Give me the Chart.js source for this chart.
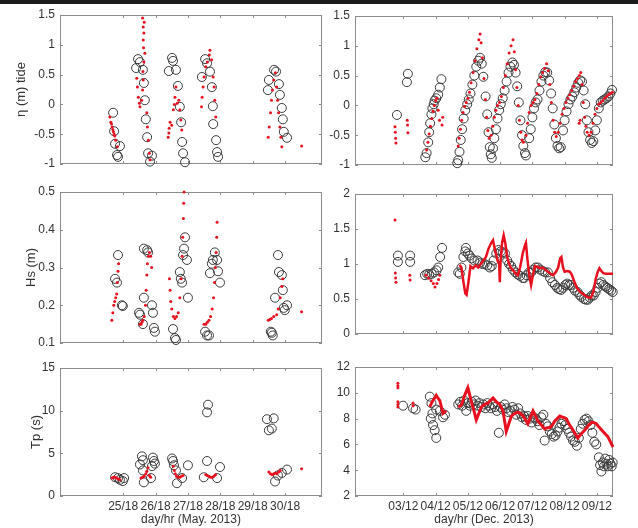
<!DOCTYPE html>
<html>
<head>
<meta charset="utf-8">
<script src="https://cdn.jsdelivr.net/npm/chart.js@4.4.0/dist/chart.umd.min.js"></script>
<style>
  body { margin: 0; background: #fff; width: 638px; height: 528px; position: relative; overflow: hidden; }
  .topbar { position: absolute; left: 0; top: 0; width: 638px; height: 4px; background: #1c1c1c; }
  canvas { position: absolute; }
</style>
</head>
<body>
<div class="topbar"></div>
<canvas id="tideMay"></canvas>
<canvas id="tideDec"></canvas>
<canvas id="hsMay"></canvas>
<canvas id="hsDec"></canvas>
<canvas id="tpMay"></canvas>
<canvas id="tpDec"></canvas>
<script>
// x ticks (day number, 18h for May / 12h for Dec)
const mayTicks = [25.75, 26.75, 27.75, 28.75, 29.75, 30.75];
const mayTickLabels = ['25/18', '26/18', '27/18', '28/18', '29/18', '30/18'];
const decTicks = [3.5, 4.5, 5.5, 6.5, 7.5, 8.5, 9.5];
const decTickLabels = ['03/12', '04/12', '05/12', '06/12', '07/12', '08/12', '09/12'];

// y ticks
const tideTicks = [-1, -0.5, 0, 0.5, 1, 1.5];
const hsMayTicks = [0.1, 0.2, 0.3, 0.4, 0.5];
const hsDecTicks = [0, 0.5, 1, 1.5, 2];
const tpMayTicks = [0, 5, 10, 15];
const tpDecTicks = [2, 4, 6, 8, 10, 12];

// ---- May 2013: observations (circles) and model (red dots), [day, value]
const tideMayObs = [
  [25.44,-0.14],[25.47,-0.45],[25.50,-0.66],[25.65,-0.70],[25.56,-0.85],[25.59,-0.88],
  [26.21,0.76],[26.27,0.71],[26.15,0.61],[26.36,0.58],[26.39,0.36],[26.42,0.07],[26.45,-0.25],[26.49,-0.55],[26.52,-0.82],[26.58,-0.96],[26.64,-0.86],
  [27.26,0.78],[27.29,0.73],[27.16,0.56],[27.38,0.58],[27.44,0.31],[27.50,-0.04],[27.54,-0.30],[27.57,-0.63],[27.60,-0.82],[27.66,-0.97],
  [28.28,0.76],[28.34,0.69],[28.18,0.46],[28.43,0.55],[28.49,0.29],[28.52,-0.03],[28.53,-0.33],[28.62,-0.60],[28.65,-0.80],[28.68,-0.88],
  [30.41,0.58],[30.47,0.55],[30.25,0.41],[30.22,0.24],[30.56,0.34],[30.59,0.16],[30.65,-0.06],[30.68,-0.25],[30.71,-0.46],[30.81,-0.56]
];
const tideMayModel = [
  [25.34,-0.21],[25.37,-0.30],[25.39,-0.33],[25.41,-0.38],[25.43,-0.42],[25.45,-0.46],[25.47,-0.50],[25.49,-0.53],[25.52,-0.60],[25.57,-0.71],
  [26.35,1.45],[26.40,1.38],[26.37,1.30],[26.39,1.20],[26.37,1.08],[26.38,0.95],[26.42,0.86],[26.39,0.71],[26.36,0.55],[26.37,0.41],[26.35,0.24],[26.32,0.07],[26.27,-0.04],
  [26.17,0.44],[26.19,0.29],[26.22,0.12],[26.25,0.02],
  [26.48,-0.14],[26.50,-0.38],[26.53,-0.60],[26.56,-0.82],[26.58,-0.93],
  [27.14,-0.55],[27.16,-0.48],[27.17,-0.40],[27.20,-0.30],[27.25,-0.35],[27.30,-0.09],[27.33,0.00],[27.35,0.12],[27.38,0.29],[27.42,0.02],[27.47,0.07],[27.50,-0.09],[27.53,-0.26],[27.56,-0.43],
  [28.17,-0.04],[28.19,0.12],[28.22,0.29],[28.25,0.46],[28.30,0.63],[28.35,0.71],[28.41,0.83],[28.43,0.91],[28.48,0.75],[28.53,0.46],[28.56,0.29],[28.58,0.07],[28.61,-0.21],
  [30.23,-0.55],[30.26,-0.38],[30.30,-0.14],[30.33,0.07],[30.36,0.24],[30.40,0.41],[30.45,0.53],[30.49,0.29],[30.52,0.07],[30.55,-0.14],[30.59,-0.38],[30.62,-0.55],[30.65,-0.71],
  [31.26,-0.70]
];
const hsMayObs = [
  [25.59,0.333],[25.50,0.27],[25.56,0.26],[25.71,0.20],[25.74,0.198],
  [26.39,0.35],[26.49,0.346],[26.52,0.34],[26.24,0.18],[26.27,0.175],[26.36,0.15],[26.39,0.22],[26.64,0.20],[26.67,0.18],[26.70,0.14],[26.73,0.13],
  [27.29,0.137],[27.35,0.113],[27.38,0.108],[27.50,0.288],[27.53,0.27],[27.57,0.26],[27.66,0.38],[27.63,0.35],[27.60,0.333],[27.72,0.32],[27.75,0.22],
  [28.28,0.13],[28.34,0.12],[28.40,0.12],[28.43,0.285],[28.49,0.31],[28.52,0.32],[28.58,0.34],[28.65,0.32],[28.68,0.29],[28.74,0.26],
  [30.31,0.13],[30.37,0.12],[30.34,0.127],[30.44,0.22],[30.53,0.333],[30.56,0.288],[30.65,0.28],[30.68,0.24],[30.71,0.193],[30.81,0.20],[30.74,0.187]
];
const hsMayModel = [
  [25.40,0.16],[25.43,0.18],[25.46,0.20],[25.49,0.21],[25.52,0.22],[25.55,0.23],[25.57,0.26],[25.59,0.29],[25.61,0.31],
  [26.27,0.15],[26.30,0.15],[26.33,0.155],[26.36,0.16],[26.40,0.17],[26.44,0.20],[26.46,0.24],[26.48,0.28],[26.50,0.31],[26.53,0.33],[26.56,0.34],[26.60,0.33],[26.63,0.30],
  [27.18,0.27],[27.20,0.24],[27.22,0.21],[27.25,0.19],[27.30,0.17],[27.35,0.165],[27.40,0.17],[27.45,0.18],[27.50,0.22],[27.54,0.27],[27.57,0.33],[27.59,0.38],[27.61,0.43],[27.62,0.47],[27.63,0.50],
  [28.25,0.15],[28.30,0.15],[28.35,0.155],[28.40,0.16],[28.45,0.17],[28.50,0.19],[28.54,0.22],[28.57,0.26],[28.60,0.30],[28.62,0.34],[28.64,0.38],[28.65,0.42],
  [30.23,0.16],[30.28,0.162],[30.33,0.165],[30.40,0.17],[30.49,0.175],[30.54,0.19],[30.60,0.22],[30.65,0.25],[30.68,0.27],
  [31.26,0.183]
];
const tpMayObs = [
  [25.50,2.2],[25.59,2.1],[25.74,1.75],[25.65,1.9],[25.78,2.1],
  [26.33,4.65],[26.36,4.2],[26.27,3.7],[26.36,3.0],[26.39,1.6],[26.67,4.5],[26.70,4.1],[26.64,3.5],[26.73,3.8],[26.61,2.1],
  [27.26,4.4],[27.29,4.1],[27.32,3.6],[27.38,3.0],[27.41,1.5],[27.75,3.6],[27.57,2.1],
  [28.37,10.7],[28.34,9.8],[28.34,4.1],[28.24,2.2],[28.74,3.4],[28.65,2.1],
  [30.19,9.0],[30.40,9.1],[30.25,7.7],[30.34,7.9],[30.44,1.7],[30.53,2.4],[30.81,3.1],[30.65,2.7]
];
const tpMayModel = [
  [25.41,2.1],[25.45,2.2],[25.50,2.2],[25.55,2.1],[25.60,2.0],[25.65,1.9],
  [26.30,2.1],[26.35,2.2],[26.40,2.3],[26.45,2.6],[26.48,2.9],[26.52,3.3],[26.56,2.4],[26.60,2.2],
  [27.30,3.5],[27.33,3.0],[27.36,2.6],[27.40,2.3],[27.45,2.2],[27.50,2.2],[27.55,2.3],[27.60,2.4],
  [28.30,2.5],[28.35,2.4],[28.40,2.3],[28.45,2.2],[28.50,2.2],[28.55,2.3],[28.60,2.5],
  [30.25,2.8],[30.30,2.6],[30.35,2.5],[30.40,2.6],[30.45,2.7],[30.50,2.6],[30.55,2.8],[30.60,3.0],
  [31.26,3.2]
];

// ---- Dec 2013
const tideDecObs = [
  [3.30,-0.16],[3.64,0.53],[3.61,0.39],
  [4.18,-0.87],[4.22,-0.80],[4.27,-0.62],[4.30,-0.45],[4.33,-0.30],[4.37,-0.15],[4.40,-0.05],[4.44,0.02],[4.47,0.08],[4.52,0.12],[4.58,0.18],[4.63,0.30],[4.68,0.44],
  [5.17,-0.97],[5.20,-0.92],[5.24,-0.78],[5.28,-0.58],[5.32,-0.40],[5.37,-0.22],[5.42,-0.08],[5.48,0.02],[5.53,0.10],[5.58,0.20],[5.64,0.35],[5.70,0.50],[5.76,0.65],[5.82,0.75],[5.88,0.80],[5.93,0.70],[5.98,0.48],[6.05,0.15],[6.10,-0.15],[6.14,-0.45],[6.18,-0.70],[6.21,-0.82],[6.24,-0.88],
  [6.28,-0.72],[6.32,-0.55],[6.37,-0.40],[6.42,-0.22],[6.47,-0.08],[6.52,0.02],[6.58,0.12],[6.64,0.25],[6.70,0.40],[6.76,0.55],[6.82,0.65],[6.88,0.72],[6.93,0.68],[6.98,0.55],[7.03,0.32],[7.08,0.05],[7.13,-0.25],[7.18,-0.50],[7.22,-0.68],[7.27,-0.80],[7.30,-0.84],
  [7.40,-0.55],[7.45,-0.40],[7.50,-0.20],[7.55,-0.05],[7.60,0.05],[7.66,0.10],[7.72,0.25],[7.78,0.40],[7.84,0.50],[7.90,0.56],[7.96,0.55],[8.02,0.42],[8.08,0.20],[8.13,-0.05],[8.18,-0.32],[8.23,-0.55],[8.28,-0.68],[8.33,-0.72],[8.38,-0.70],
  [8.45,-0.42],[8.50,-0.25],[8.56,-0.10],[8.62,0.02],[8.68,0.10],[8.74,0.15],[8.80,0.22],[8.86,0.30],[8.92,0.38],[8.98,0.42],[9.04,0.40],[9.09,0.25],[9.14,0.02],[9.19,-0.25],[9.24,-0.45],[9.29,-0.58],[9.34,-0.63],[9.39,-0.60],
  [9.45,-0.42],[9.50,-0.25],[9.56,-0.05],[9.62,0.05],[9.68,0.08],[9.74,0.10],[9.80,0.12],[9.86,0.15],[9.92,0.20],[9.97,0.26]
];
const tideDecModel = [
  [3.24,-0.36],[3.25,-0.45],[3.26,-0.55],[3.27,-0.63],[3.62,-0.25],[3.63,-0.33],[3.64,-0.46],
  [4.22,-0.75],[4.26,-0.62],[4.30,-0.48],[4.34,-0.35],[4.38,-0.22],[4.42,-0.10],[4.46,0.00],[4.50,0.08],[4.54,0.12],[4.58,-0.08],[4.62,-0.25],[4.70,-0.33],[4.72,-0.20],
  [5.20,-0.68],[5.23,-0.55],[5.27,-0.40],[5.31,-0.25],[5.35,-0.12],[5.40,-0.02],[5.45,0.05],[5.50,0.12],[5.55,0.22],[5.60,0.38],[5.66,0.55],[5.72,0.75],[5.78,0.95],[5.84,1.10],[5.88,1.20],[5.91,1.05],[5.95,0.80],[6.00,0.45],[6.04,0.10],[6.08,-0.20],[6.12,-0.42],[6.16,-0.55],
  [6.22,-0.50],[6.27,-0.35],[6.32,-0.20],[6.37,-0.08],[6.42,0.00],[6.48,0.05],[6.54,0.15],[6.60,0.30],[6.66,0.50],[6.72,0.70],[6.78,0.88],[6.84,1.00],[6.90,1.10],[6.94,0.90],[6.98,0.60],[7.02,0.30],[7.06,0.00],[7.10,-0.25],[7.14,-0.45],[7.18,-0.58],[7.22,-0.62],
  [7.30,-0.50],[7.35,-0.30],[7.40,-0.12],[7.46,0.00],[7.52,0.05],[7.58,0.10],[7.64,0.20],[7.70,0.35],[7.76,0.48],[7.82,0.55],[7.88,0.62],[7.94,0.70],[7.99,0.58],[8.04,0.35],[8.09,0.05],[8.14,-0.25],[8.19,-0.45],[8.24,-0.52],
  [8.30,-0.45],[8.36,-0.30],[8.42,-0.15],[8.48,-0.05],[8.54,0.05],[8.60,0.12],[8.66,0.18],[8.72,0.25],[8.78,0.32],[8.84,0.40],[8.90,0.45],[8.95,-0.30],[8.96,0.50],[8.98,-0.25],[9.00,0.55],[9.04,0.35],[9.08,0.05],[9.12,-0.20],[9.16,-0.35],[9.20,-0.45],[9.26,-0.50],
  [9.32,-0.45],[9.38,-0.30],[9.44,-0.15],[9.50,-0.05],[9.56,0.02],[9.62,0.05],[9.68,0.08],[9.74,0.12],[9.80,0.15],[9.86,0.18],[9.92,0.20],[9.98,0.22]
];
const hsDecObs = [
  [3.33,1.03],[3.33,1.12],[3.71,1.12],[3.71,1.03],
  [4.17,0.84],[4.24,0.86],[4.30,0.85],[4.38,0.86],[4.45,0.88],[4.53,0.91],[4.58,0.95],[4.64,1.10],[4.70,1.23],
  [5.20,0.88],[5.25,0.86],[5.30,0.95],[5.36,1.10],[5.42,1.18],[5.44,1.23],[5.50,1.15],[5.55,1.12],[5.62,1.08],[5.70,1.05],[5.80,1.05],[5.88,1.02],[5.95,1.00],[6.02,1.00],[6.10,0.98],[6.18,0.95],[6.24,0.97],[6.30,1.05],[6.38,1.15],[6.45,1.20],[6.52,1.18],[6.58,1.17],[6.65,1.15],[6.72,1.05],[6.78,1.00],[6.84,0.97],[6.90,0.92],[6.97,0.88],[7.05,0.85],[7.12,0.83],[7.20,0.80],[7.25,0.80],[7.32,0.84],[7.40,0.88],[7.46,0.88],[7.53,0.92],[7.60,0.95],[7.67,0.95],[7.74,0.92],[7.82,0.90],[7.90,0.88],[7.98,0.88],
  [8.05,0.80],[8.12,0.74],[8.20,0.70],[8.27,0.66],[8.33,0.64],[8.39,0.63],[8.46,0.66],[8.52,0.70],[8.58,0.72],[8.64,0.70],[8.70,0.70],[8.76,0.66],[8.82,0.62],[8.90,0.60],[8.96,0.56],[9.02,0.53],[9.10,0.50],[9.16,0.49],[9.22,0.49],[9.28,0.52],[9.34,0.55],[9.40,0.55],[9.46,0.60],[9.52,0.66],[9.58,0.72],[9.64,0.74],[9.70,0.70],[9.76,0.68],[9.82,0.66],[9.88,0.64],[9.94,0.62],[9.99,0.60]
];
const hsDecModelDots = [
  [3.24,1.63],[3.25,0.87],[3.26,0.80],[3.27,0.74],[3.70,0.84],[3.71,0.77],
  [4.20,0.84],[4.28,0.80],[4.36,0.76],[4.43,0.72],[4.48,0.67],[4.54,0.72],[4.59,0.78],[4.63,0.84]
];
const hsDecModelLine = [
  [5.24,0.99],[5.30,0.95],[5.36,0.75],[5.42,0.58],[5.46,0.56],[5.52,0.75],[5.58,0.97],[5.66,0.94],[5.74,0.98],[5.82,0.95],[5.90,1.00],[5.98,1.05],[6.06,1.10],[6.14,1.22],[6.22,1.30],[6.28,1.34],[6.34,1.20],[6.42,1.05],[6.47,1.00],[6.49,0.74],[6.51,1.00],[6.56,1.30],[6.61,1.41],[6.66,1.30],[6.72,1.10],[6.78,1.00],[6.84,0.94],[6.92,0.90],[6.98,0.86],[7.05,0.84],[7.12,0.95],[7.20,1.15],[7.26,1.25],[7.30,1.30],[7.34,1.10],[7.40,0.85],[7.46,0.70],[7.52,0.85],[7.58,0.97],[7.66,0.96],[7.74,0.94],[7.82,0.95],[7.90,0.92],[7.98,0.89],
  [8.06,0.86],[8.14,0.84],[8.22,0.88],[8.30,0.95],[8.36,1.08],[8.40,1.10],[8.45,0.95],[8.50,0.89],[8.58,0.90],[8.66,0.89],[8.72,0.85],[8.80,0.75],[8.88,0.66],[8.95,0.62],[9.01,0.59],[9.08,0.57],[9.16,0.54],[9.24,0.52],[9.32,0.52],[9.40,0.62],[9.46,0.78],[9.52,0.88],[9.58,0.94],[9.64,0.90],[9.70,0.87],[9.78,0.86],[9.86,0.86],[9.94,0.86],[10.0,0.86]
];
const tpDecObs = [
  [3.49,9.0],[3.80,8.8],[3.88,8.7],
  [4.32,9.7],[4.37,9.2],[4.35,8.0],[4.42,7.5],[4.47,7.1],[4.52,6.5],[4.52,8.7],[4.63,8.6],[4.79,8.3],[4.73,8.1],[4.40,8.4],
  [5.20,9.1],[5.26,9.3],[5.32,9.0],[5.38,9.4],[5.45,8.6],[5.50,9.2],[5.56,9.0],[5.62,9.3],[5.68,9.1],[5.74,9.4],[5.80,9.0],[5.86,9.2],[5.92,8.9],[5.98,9.1],[6.04,8.8],[6.10,9.2],[6.16,9.0],[6.22,8.8],[6.28,9.1],[6.34,8.9],[6.40,8.6],[6.46,6.9],[6.52,8.9],[6.58,8.7],[6.64,9.1],[6.70,8.8],[6.76,8.5],[6.82,8.6],[6.88,8.9],[6.94,8.7],[7.00,8.3],[7.06,8.8],[7.12,8.4],[7.18,8.1],[7.24,8.2],[7.30,7.9],[7.36,8.2],[7.42,8.0],[7.48,7.7],[7.54,8.1],[7.60,8.0],[7.66,7.8],[7.72,7.5],[7.78,8.1],[7.84,8.3],[7.88,6.3],[7.92,7.6],[7.98,7.4],
  [8.04,7.0],[8.10,6.8],[8.16,6.6],[8.22,6.7],[8.28,7.0],[8.34,7.3],[8.40,7.6],[8.46,7.8],[8.52,7.5],[8.58,7.2],[8.64,6.9],[8.70,6.6],[8.76,6.3],[8.82,6.2],[8.88,5.9],[8.94,6.5],[9.00,7.2],[9.06,7.6],[9.12,7.9],[9.18,8.0],[9.24,7.8],[9.30,7.5],[9.36,6.9],[9.42,6.2],[9.48,6.0],
  [9.56,5.0],[9.60,4.4],[9.64,3.9],[9.68,4.6],[9.72,4.3],[9.76,4.9],[9.80,4.5],[9.84,4.3],[9.88,4.8],[9.92,4.5],[9.96,4.3],[9.99,4.6]
];
const tpDecModelDots = [
  [3.33,10.75],[3.33,10.55],[3.33,10.4],[3.33,9.3],[3.33,9.1],[3.33,8.9],[3.80,9.2],[3.80,9.0]
];
const tpDecModelEarly = [
  [4.32,8.9],[4.37,9.2],[4.42,9.4],[4.47,9.6],[4.52,9.8],[4.57,9.6],[4.63,9.4],[4.68,8.9],[4.73,8.4],[4.78,8.5],[4.83,8.6]
];
const tpDecModelLine = [
  [5.20,8.9],[5.30,9.05],[5.40,9.8],[5.50,10.4],[5.56,9.8],[5.63,9.1],[5.70,8.5],[5.76,7.9],[5.84,8.4],[5.92,8.9],[6.02,9.1],[6.12,9.2],[6.20,9.4],[6.28,9.6],[6.38,9.3],[6.49,9.1],[6.59,8.6],[6.64,7.8],[6.69,7.0],[6.77,7.6],[6.85,8.2],[6.95,8.4],[7.05,8.5],[7.13,8.4],[7.21,8.2],[7.29,7.9],[7.36,7.6],[7.44,8.1],[7.52,8.6],[7.60,8.2],[7.67,7.8],[7.78,7.5],[7.88,7.2],[7.96,7.3],
  [8.04,7.3],[8.12,7.5],[8.19,7.8],[8.27,8.0],[8.35,8.2],[8.45,8.1],[8.55,8.0],[8.63,7.6],[8.71,7.3],[8.81,6.9],[8.91,6.5],[9.01,6.8],[9.12,7.1],[9.22,7.4],[9.33,7.7],[9.40,7.7],[9.48,7.6],[9.58,7.3],[9.69,7.0],[9.76,6.8],[9.84,6.6],[9.92,6.2],[10.0,5.8]
];

const FONT = "'Liberation Sans', Arial, sans-serif";
const RED = '#e8101e';
const toXY = pts => pts.map(p => ({ x: p[0], y: p[1] }));

function obsSet(pts) {
  return { data: toXY(pts), showLine: false, pointStyle: 'circle', pointRadius: 4.5,
    borderColor: '#3a3a3a', backgroundColor: 'rgba(0,0,0,0)', borderWidth: 1, clip: false };
}
function dotSet(pts) {
  return { data: toXY(pts), showLine: false, pointRadius: 1.5, borderWidth: 0,
    backgroundColor: RED, clip: false };
}
function lineSet(pts, w) {
  return { data: toXY(pts), showLine: true, pointRadius: 0, borderWidth: w || 3,
    borderColor: RED, backgroundColor: RED, tension: 0, clip: false };
}

// remove label overhang so the plot box sits exactly where asked
function noPad(s) {
  s.paddingTop = 0; s.paddingBottom = 0; s.paddingLeft = 0; s.paddingRight = 0;
}

// draws the matlab-style box and inward tick marks
const boxPlugin = {
  id: 'box',
  beforeDatasetsDraw(chart) {
    const { ctx, chartArea: a, scales } = chart;
    ctx.save();
    ctx.strokeStyle = '#8c8c8c';
    ctx.lineWidth = 1;
    ctx.strokeRect(Math.round(a.left) + 0.5, Math.round(a.top) + 0.5, Math.round(a.right - a.left) - 1, Math.round(a.bottom - a.top) - 1);
    ctx.beginPath();
    scales.x.ticks.forEach(t => {
      const px = Math.round(scales.x.getPixelForValue(t.value)) + 0.5;
      ctx.moveTo(px, a.bottom); ctx.lineTo(px, a.bottom - 3);
      ctx.moveTo(px, a.top); ctx.lineTo(px, a.top + 3);
    });
    scales.y.ticks.forEach(t => {
      const py = Math.round(scales.y.getPixelForValue(t.value)) + 0.5;
      ctx.moveTo(a.left, py); ctx.lineTo(a.left + 3, py);
      ctx.moveTo(a.right, py); ctx.lineTo(a.right - 3, py);
    });
    ctx.stroke();
    ctx.restore();
  }
};

function makePanel(id, box, cfg) {
  const padTop = 8, padRight = 8;
  const xh = cfg.bottom ? 528 - box.b : 0;
  const padBottom = cfg.bottom ? 0 : 6;
  const canvas = document.getElementById(id);
  canvas.width = box.r - box.l + box.yw + padRight;
  canvas.height = box.b - box.t + padTop + xh + padBottom;
  canvas.style.left = (box.l - box.yw) + 'px';
  canvas.style.top = (box.t - padTop) + 'px';

  new Chart(canvas, {
    type: 'scatter',
    data: { datasets: cfg.datasets },
    options: {
      responsive: false,
      animation: false,
      devicePixelRatio: 1,
      events: [],
      layout: { padding: { top: padTop, right: padRight, bottom: padBottom, left: 0 }, autoPadding: false },
      plugins: { legend: { display: false }, tooltip: { enabled: false } },
      scales: {
        x: {
          type: 'linear', min: cfg.xMin, max: cfg.xMax,
          grid: { display: false, drawTicks: false }, border: { display: false },
          afterBuildTicks: s => { s.ticks = cfg.xTicks.map(v => ({ value: v })); },
          afterFit: s => { s.height = xh; noPad(s); },
          ticks: {
            display: !!cfg.bottom, autoSkip: false, maxRotation: 0, minRotation: 0, padding: 3,
            color: '#333', font: { family: FONT, size: 12 },
            callback: (v, i) => cfg.xLabels[i]
          },
          title: { display: !!cfg.bottom, text: cfg.xTitle, color: '#333',
            font: { family: FONT, size: 12 }, padding: { top: 0, bottom: 1 } }
        },
        y: {
          type: 'linear', min: cfg.yTicks[0], max: cfg.yTicks[cfg.yTicks.length - 1],
          grid: { display: false, drawTicks: false }, border: { display: false },
          afterBuildTicks: s => { s.ticks = cfg.yTicks.map(v => ({ value: v })); },
          afterFit: s => { s.width = box.yw; noPad(s); },
          ticks: { padding: 5, color: '#333', font: { family: FONT, size: 12 }, callback: v => String(v) },
          title: { display: !!cfg.yTitle, text: cfg.yTitle, color: '#333',
            font: { family: FONT, size: 13 }, padding: { top: cfg.titlePad || 0, bottom: 0 } }
        }
      }
    },
    plugins: [boxPlugin]
  });
}

const mayRange = { xMin: 23.8, xMax: 31.89, xTicks: mayTicks, xLabels: mayTickLabels, xTitle: 'day/hr (May. 2013)' };
const decRange = { xMin: 2, xMax: 10, xTicks: decTicks, xLabels: decTickLabels, xTitle: 'day/hr (Dec. 2013)' };

makePanel('tideMay', { l: 60, t: 15, r: 322, b: 164, yw: 60 }, Object.assign({}, mayRange, {
  yTicks: tideTicks, yTitle: 'η (m) tide', titlePad: 14,
  datasets: [dotSet(tideMayModel), obsSet(tideMayObs)]
}));
makePanel('tideDec', { l: 355, t: 16, r: 613, b: 165, yw: 45 }, Object.assign({}, decRange, {
  yTicks: tideTicks,
  datasets: [dotSet(tideDecModel), obsSet(tideDecObs)]
}));
makePanel('hsMay', { l: 60, t: 192, r: 322, b: 343, yw: 60 }, Object.assign({}, mayRange, {
  yTicks: hsMayTicks, yTitle: 'Hs (m)', titlePad: 24,
  datasets: [dotSet(hsMayModel), obsSet(hsMayObs)]
}));
makePanel('hsDec', { l: 355, t: 194, r: 613, b: 334, yw: 45 }, Object.assign({}, decRange, {
  yTicks: hsDecTicks,
  datasets: [lineSet(hsDecModelLine, 2.5), dotSet(hsDecModelDots), obsSet(hsDecObs)]
}));
makePanel('tpMay', { l: 60, t: 368, r: 322, b: 496, yw: 60 }, Object.assign({}, mayRange, {
  yTicks: tpMayTicks, yTitle: 'Tp (s)', titlePad: 29, bottom: true,
  datasets: [dotSet(tpMayModel), obsSet(tpMayObs)]
}));
makePanel('tpDec', { l: 355, t: 367, r: 613, b: 496, yw: 45 }, Object.assign({}, decRange, {
  yTicks: tpDecTicks, bottom: true,
  datasets: [lineSet(tpDecModelLine, 3), lineSet(tpDecModelEarly, 3), dotSet(tpDecModelDots), obsSet(tpDecObs)]
}));
</script>
</body>
</html>
